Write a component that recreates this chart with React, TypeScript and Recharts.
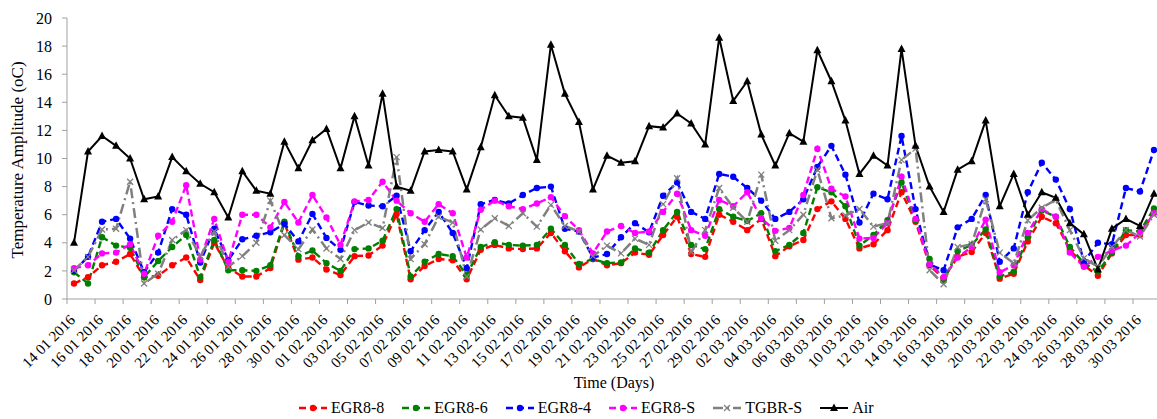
import { LineChart, Line, XAxis, YAxis } from "recharts";

const FONT = '"Liberation Serif", "Times New Roman", serif';

const DATES = [
  "14 01 2016", "15 01 2016", "16 01 2016", "17 01 2016", "18 01 2016", "19 01 2016",
  "20 01 2016", "21 01 2016", "22 01 2016", "23 01 2016", "24 01 2016", "25 01 2016",
  "26 01 2016", "27 01 2016", "28 01 2016", "29 01 2016", "30 01 2016", "31 01 2016",
  "01 02 2016", "02 02 2016", "03 02 2016", "04 02 2016", "05 02 2016", "06 02 2016",
  "07 02 2016", "08 02 2016", "09 02 2016", "10 02 2016", "11 02 2016", "12 02 2016",
  "13 02 2016", "14 02 2016", "15 02 2016", "16 02 2016", "17 02 2016", "18 02 2016",
  "19 02 2016", "20 02 2016", "21 02 2016", "22 02 2016", "23 02 2016", "24 02 2016",
  "25 02 2016", "26 02 2016", "27 02 2016", "28 02 2016", "29 02 2016", "01 03 2016",
  "02 03 2016", "03 03 2016", "04 03 2016", "05 03 2016", "06 03 2016", "07 03 2016",
  "08 03 2016", "09 03 2016", "10 03 2016", "11 03 2016", "12 03 2016", "13 03 2016",
  "14 03 2016", "15 03 2016", "16 03 2016", "17 03 2016", "18 03 2016", "19 03 2016",
  "20 03 2016", "21 03 2016", "22 03 2016", "23 03 2016", "24 03 2016", "25 03 2016",
  "26 03 2016", "27 03 2016", "28 03 2016", "29 03 2016", "30 03 2016", "31 03 2016",
];

const EGR8_8 = [
  1.1, 1.55, 2.4, 2.65, 3.2, 1.55, 1.65, 2.4, 2.95, 1.35,
  4.0, 2.2, 1.6, 1.6, 2.2, 5.4, 2.8, 2.95, 2.1, 1.7,
  3.05, 3.1, 3.8, 6.05, 1.4, 2.35, 2.85, 2.75, 1.4, 3.5,
  3.85, 3.6, 3.55, 3.6, 4.7, 3.4, 2.25, 2.85, 2.4, 2.55,
  3.3, 3.15, 4.55, 5.85, 3.2, 3.0, 6.0, 5.5, 4.9, 5.7,
  3.05, 3.75, 4.2, 6.4, 6.95, 5.7, 3.6, 3.9, 4.9, 7.6,
  5.5, 2.4, 1.45, 3.0, 3.35, 4.7, 1.45, 1.8, 4.1, 5.85,
  5.4, 3.5, 2.4, 1.65, 3.25, 4.55, 4.55, 6.15,
];

const EGR8_6 = [
  1.9, 1.1, 4.4, 3.8, 3.65, 1.55, 2.7, 3.7, 4.55, 1.55,
  4.2, 2.05, 2.05, 2.0, 2.4, 5.5, 3.05, 3.45, 2.55, 2.0,
  3.55, 3.6, 4.15, 6.4, 1.6, 2.65, 3.2, 3.05, 1.7, 3.7,
  4.05, 3.85, 3.8, 3.85, 5.0, 3.85, 2.5, 2.85, 2.55, 2.6,
  3.6, 3.3, 4.9, 6.2, 3.85, 3.55, 6.4, 5.85, 5.55, 6.1,
  3.4, 3.85, 4.7, 7.95, 7.6, 6.6, 3.8, 4.55, 5.6, 8.3,
  5.6, 2.85, 1.3, 3.4, 3.85, 4.95, 1.6, 1.95, 4.4, 6.3,
  5.85, 3.7, 2.55, 1.95, 3.3, 4.9, 4.8, 6.45,
];

const EGR8_4 = [
  2.0, 3.0, 5.5, 5.7, 4.3, 1.9, 3.3, 6.4, 6.0, 2.6,
  5.0, 2.75, 4.25, 4.5, 4.75, 5.35, 4.1, 6.05, 4.35, 3.5,
  6.9, 6.65, 6.6, 7.35, 3.4, 4.9, 6.2, 4.7, 2.2, 6.75,
  7.05, 6.8, 7.4, 7.9, 8.0, 5.0, 4.8, 2.95, 3.2, 4.4,
  5.4, 4.75, 7.35, 8.3, 6.2, 5.7, 8.9, 8.7, 7.9, 7.0,
  5.7, 6.2, 7.1, 9.4, 10.9, 8.85, 5.45, 7.5, 7.1, 11.6,
  6.4, 2.45, 2.05, 5.1, 5.7, 7.4, 2.65, 3.6, 7.6, 9.7,
  8.5, 6.4, 2.65, 4.0, 3.9, 7.9, 7.65, 10.6,
];

const EGR8_S = [
  2.2, 2.4, 3.25, 3.3, 3.9, 1.8, 4.5, 5.5, 8.1, 2.8,
  5.7, 2.65, 6.0, 6.0, 5.1, 6.9, 5.45, 7.4, 5.8, 3.85,
  6.95, 7.05, 8.35, 7.0, 6.1, 5.5, 6.75, 6.1, 2.95, 6.35,
  7.0, 6.6, 6.4, 6.8, 7.25, 5.9, 4.9, 3.25, 4.8, 5.2,
  4.7, 4.8, 6.2, 7.5, 4.9, 4.5, 7.05, 6.6, 7.6, 5.75,
  4.85, 5.05, 7.4, 10.7, 7.85, 7.3, 4.3, 4.35, 5.4, 8.7,
  5.7, 2.5, 1.55, 2.95, 3.7, 5.65, 1.9, 2.4, 4.7, 6.4,
  5.85, 3.3, 2.3, 3.0, 3.45, 3.8, 4.7, 6.1,
];

const TGBR_S = [
  2.05, 3.0, 4.95, 5.0, 8.35, 1.1, 1.8, 4.2, 4.9, 3.05,
  4.8, 2.3, 3.05, 4.0, 7.0, 4.55, 3.55, 4.95, 3.6, 2.85,
  4.9, 5.45, 5.05, 10.1, 2.85, 3.9, 5.85, 5.45, 1.6, 4.95,
  5.75, 5.2, 6.1, 5.15, 6.7, 5.2, 4.8, 3.05, 3.8, 3.25,
  4.3, 3.85, 6.75, 8.6, 3.35, 4.9, 7.9, 6.5, 5.5, 8.85,
  4.15, 4.9, 6.0, 9.2, 5.75, 5.95, 6.4, 5.15, 5.4, 9.9,
  10.7, 2.05, 1.05, 3.7, 3.9, 7.1, 3.3, 2.55, 5.6, 6.5,
  7.05, 4.9, 2.9, 2.3, 3.7, 4.9, 4.45, 6.0,
];

const AIR = [
  4.0, 10.5, 11.6, 10.9, 10.0, 7.1, 7.3, 10.1, 9.1, 8.2,
  7.6, 5.8, 9.1, 7.7, 7.5, 11.2, 9.3, 11.3, 12.1, 9.3,
  13.0, 9.5, 14.6, 8.0, 7.7, 10.5, 10.6, 10.5, 7.8, 10.8,
  14.5, 13.0, 12.9, 9.9, 18.1, 14.6, 12.6, 7.8, 10.2, 9.7,
  9.8, 12.3, 12.2, 13.2, 12.5, 11.0, 18.6, 14.1, 15.5, 11.7,
  9.5, 11.8, 11.2, 17.7, 15.5, 12.7, 8.9, 10.2, 9.5, 17.8,
  10.9, 8.0, 6.2, 9.2, 9.8, 12.7, 6.6, 8.9, 6.0, 7.6,
  7.2, 5.4, 4.6, 2.1, 5.0, 5.7, 5.2, 7.5,
];

const Y_TICKS = [0, 2, 4, 6, 8, 10, 12, 14, 16, 18, 20];

const SERIES = [
  { key: "egr88", name: "EGR8-8", color: "#ff0000", dash: "7 4", marker: "circle", width: 2.4 },
  { key: "egr86", name: "EGR8-6", color: "#008000", dash: "7 4", marker: "circle", width: 2.4 },
  { key: "egr84", name: "EGR8-4", color: "#0000ff", dash: "7 4", marker: "circle", width: 2.4 },
  { key: "egr8s", name: "EGR8-S", color: "#ff00ff", dash: "7 4", marker: "circle", width: 2.4 },
  { key: "tgbrs", name: "TGBR-S", color: "#808080", dash: "10 4 2 4", marker: "cross", width: 2.5 },
  { key: "air", name: "Air", color: "#000000", dash: undefined, marker: "triangle", width: 2 },
];

const data = DATES.map((date, i) => ({
  date,
  egr88: EGR8_8[i],
  egr86: EGR8_6[i],
  egr84: EGR8_4[i],
  egr8s: EGR8_S[i],
  tgbrs: TGBR_S[i],
  air: AIR[i],
}));

const Marker = ({ kind, cx, cy, color }: any) => {
  if (kind === "triangle") {
    return <polygon points={`${cx},${cy - 4.5} ${cx - 4},${cy + 3} ${cx + 4},${cy + 3}`} fill={color} />;
  }
  if (kind === "cross") {
    return (
      <g stroke={color} strokeWidth={1.3}>
        <line x1={cx - 3} y1={cy - 3} x2={cx + 3} y2={cy + 3} />
        <line x1={cx - 3} y1={cy + 3} x2={cx + 3} y2={cy - 3} />
      </g>
    );
  }
  return <circle cx={cx} cy={cy} r={3.2} fill={color} />;
};

const DateTick = ({ x, y, payload }: any) => (
  <g>
    <line x1={x - 7} x2={x - 7} y1={y} y2={y + 5} stroke="#a0a0a0" />
    <text
      x={x + 2}
      y={y + 22}
      textAnchor="end"
      transform={`rotate(-45, ${x + 2}, ${y + 22})`}
      fontSize={15}
      fontFamily={FONT}
      fill="#000"
    >
      {payload.value}
    </text>
  </g>
);

const LegendIcon = ({ s }: any) => (
  <svg width={28} height={12} style={{ display: "block" }}>
    <line x1={0} y1={6} x2={28} y2={6} stroke={s.color} strokeWidth={s.width} strokeDasharray={s.dash} />
    <Marker kind={s.marker} cx={14} cy={6} color={s.color} />
  </svg>
);

const App = () => {
  return (
    <div
      style={{
        position: "absolute",
        left: 0,
        top: 0,
        width: 1157,
        height: 419,
        overflow: "hidden",
        background: "#fff",
        fontFamily: FONT,
        color: "#000",
      }}
    >
      <LineChart width={1162} height={419} data={data} margin={{ top: 18, right: 1, bottom: 0, left: 0 }}>
        <XAxis
          dataKey="date"
          interval={1}
          height={120}
          padding={{ left: 7, right: 7 }}
          tickLine={false}
          tickSize={0}
          tickMargin={0}
          axisLine={{ stroke: "#a0a0a0" }}
          tick={<DateTick />}
        />
        <YAxis
          width={67}
          domain={[0, 20]}
          ticks={Y_TICKS}
          interval={0}
          tickSize={5}
          tickMargin={10}
          stroke="#a0a0a0"
          tick={{ fill: "#000", fontSize: 16, fontFamily: FONT }}
        />
        {SERIES.map((s) => (
          <Line
            key={s.key}
            dataKey={s.key}
            name={s.name}
            type="linear"
            stroke={s.color}
            strokeWidth={s.width}
            strokeDasharray={s.dash}
            isAnimationActive={false}
            activeDot={false}
            dot={(p: any) => <Marker key={`${s.key}-${p.index}`} kind={s.marker} cx={p.cx} cy={p.cy} color={s.color} />}
          />
        ))}
      </LineChart>

      <div
        style={{
          position: "absolute",
          left: 18,
          top: 160,
          transform: "translate(-50%, -50%) rotate(-90deg)",
          whiteSpace: "nowrap",
          fontSize: 17,
        }}
      >
        Temperature Amplitude (oC)
      </div>

      <div
        style={{
          position: "absolute",
          left: 614,
          top: 383,
          transform: "translate(-50%, -50%)",
          whiteSpace: "nowrap",
          fontSize: 16,
        }}
      >
        Time (Days)
      </div>

      <div
        style={{
          position: "absolute",
          left: 299,
          top: 398,
          height: 20,
          display: "flex",
          alignItems: "center",
          gap: 18,
          fontSize: 16,
          whiteSpace: "nowrap",
        }}
      >
        {SERIES.map((s) => (
          <div key={s.key} style={{ display: "flex", alignItems: "center", gap: 4 }}>
            <LegendIcon s={s} />
            <span>{s.name}</span>
          </div>
        ))}
      </div>
    </div>
  );
};

export default App;
